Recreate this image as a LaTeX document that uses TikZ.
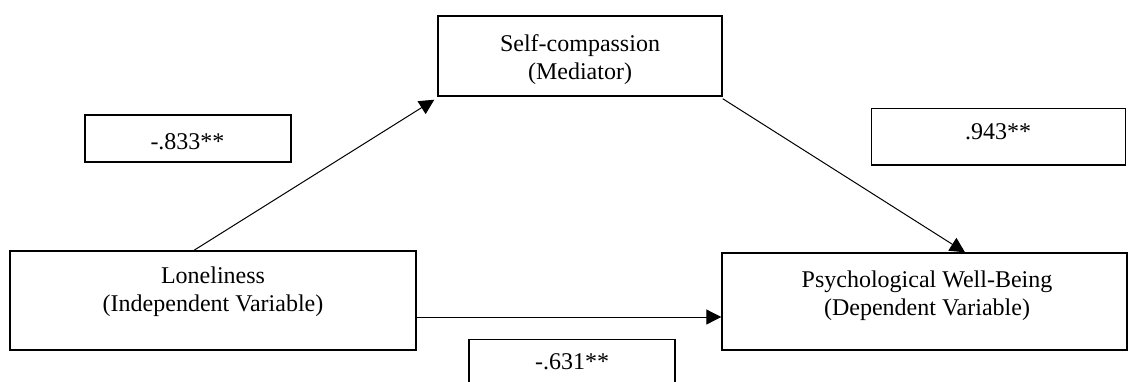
\documentclass[tikz,border=0pt]{standalone}
\usepackage{fontspec}
\setmainfont{Liberation Serif}
\usetikzlibrary{arrows.meta}

\begin{document}
\begin{tikzpicture}[x=0.5pt, y=-0.5pt, box/.style = {draw, line width=0.7pt, inner sep=0pt}, lbl/.style = {align=center, inner sep=0pt, font=\fontsize{12}{14}\selectfont}, arr/.style = {line width=0.5pt, -{Triangle[length=7.5pt,width=7.5pt]}}]
		\clip (0,0) rectangle (1128,381);
		\node[box, minimum width=142pt, minimum height=40pt] (self) at (580,56) {};
		\node[box, minimum width=203pt, minimum height=49.5pt] (lonely) at (213,300.5) {};
		\node[box, minimum width=202.5pt, minimum height=48.5pt] (pwb) at (924.5,301.5) {};
		\node[box, minimum width=103pt, minimum height=23.5pt] (c833) at (188,138.5) {};
		\node[box, minimum width=127pt, minimum height=28.3pt] (c943) at (998.6,136.6) {};
		\node[box, minimum width=103pt, minimum height=28.3pt] (c631) at (572,367.6) {};
		
		\node[lbl] (selftxt) at (580,59.7) {Self-compassion\\(Mediator)};
		\node[lbl] (lonelytxt) at (213,292) {Loneliness\\(Independent Variable)};
		\node[lbl] (pwbtxt) at (927,295.8) {Psychological Well-Being\\(Dependent Variable)};
		\node[lbl] (c833txt) at (187.5,141.7) {-.833**};
		\node[lbl] (c943txt) at (998,131.7) {.943**};
		\node[lbl] (c631txt) at (572,361.7) {-.631**};
		
		\draw[arr] ([xshift=-9.5pt]lonely.north) -- ([shift={(-1.5pt,-1.5pt)}]self.south west);
		\draw[arr] ([yshift=-1pt]self.south east) -- ([xshift=20.25pt]pwb.north);
		\draw[arr] ([yshift=-8.25pt]lonely.east) coordinate (h) -- (h -| pwb.west);
	\end{tikzpicture}
\end{document}
